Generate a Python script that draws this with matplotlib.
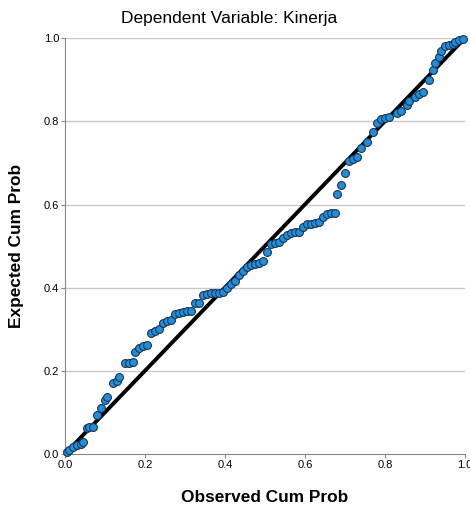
import matplotlib
matplotlib.use("Agg")
import matplotlib.pyplot as plt

plt.rcParams['font.family'] = ['Liberation Sans', 'DejaVu Sans']

# observed vs expected cumulative probability
observed = [0.005, 0.01, 0.02, 0.03, 0.04, 0.045, 0.055, 0.06, 0.07, 0.08,
            0.09, 0.10, 0.105, 0.12, 0.13, 0.135, 0.15, 0.16, 0.17, 0.175,
            0.185, 0.195, 0.205, 0.215, 0.225, 0.235, 0.245, 0.255, 0.265, 0.275,
            0.285, 0.295, 0.305, 0.315, 0.325, 0.335, 0.345, 0.355, 0.365, 0.375,
            0.385, 0.395, 0.405, 0.415, 0.425, 0.435, 0.445, 0.455, 0.465, 0.475,
            0.485, 0.495, 0.505, 0.515, 0.525, 0.535, 0.545, 0.555, 0.565, 0.575,
            0.585, 0.595, 0.605, 0.615, 0.625, 0.635, 0.645, 0.655, 0.665, 0.675,
            0.68, 0.69, 0.70, 0.71, 0.72, 0.73, 0.74, 0.755, 0.77, 0.78,
            0.79, 0.80, 0.81, 0.83, 0.84, 0.855, 0.86, 0.875, 0.885, 0.895,
            0.91, 0.92, 0.925, 0.935, 0.94, 0.95, 0.96, 0.97, 0.975, 0.985, 0.995]
expected = [0.005, 0.01, 0.018, 0.022, 0.025, 0.03, 0.062, 0.065, 0.066, 0.095,
            0.11, 0.13, 0.137, 0.17, 0.175, 0.185, 0.218, 0.22, 0.222, 0.245,
            0.255, 0.26, 0.262, 0.29, 0.295, 0.30, 0.315, 0.32, 0.322, 0.337,
            0.34, 0.342, 0.343, 0.345, 0.362, 0.363, 0.383, 0.386, 0.387, 0.388,
            0.388, 0.39, 0.40, 0.41, 0.415, 0.43, 0.44, 0.45, 0.455, 0.457,
            0.46, 0.465, 0.485, 0.505, 0.507, 0.51, 0.52, 0.527, 0.532, 0.533,
            0.535, 0.545, 0.552, 0.553, 0.555, 0.557, 0.57, 0.578, 0.58, 0.58,
            0.625, 0.648, 0.675, 0.705, 0.71, 0.715, 0.735, 0.75, 0.774, 0.795,
            0.805, 0.808, 0.81, 0.82, 0.825, 0.84, 0.85, 0.858, 0.865, 0.87,
            0.90, 0.923, 0.94, 0.955, 0.97, 0.98, 0.983, 0.985, 0.99, 0.995, 0.998]
ticks = [0.0, 0.2, 0.4, 0.6, 0.8, 1.0]
tick_labels = ["0.0", "0.2", "0.4", "0.6", "0.8", "1.0"]

fig = plt.figure(figsize=(4.7, 5.09), dpi=100)
ax = fig.add_axes([0.138, 0.108, 0.851, 0.817])

for t in ticks[1:]:
    ax.axhline(t, color='#c8c8c8', linewidth=1, zorder=0)

ax.plot([0, 1], [0, 1], color='black', linewidth=2.8, zorder=2)
ax.scatter(observed, expected, s=32, color='#1f8fdc', edgecolor='#1b3550',
           linewidth=0.8, zorder=3, clip_on=False)

ax.set_xlim(0, 1)
ax.set_ylim(0, 1)
ax.set_xticks(ticks)
ax.set_xticklabels(tick_labels)
ax.set_yticks(ticks)
ax.set_yticklabels(tick_labels)
ax.tick_params(labelsize=8, length=3, color='#888888', pad=1)
for s in ['top', 'right']:
    ax.spines[s].set_visible(False)
for s in ['left', 'bottom']:
    ax.spines[s].set_color('#888888')

fig.text(0.488, 0.963, "Dependent Variable: Kinerja", ha='center', va='center',
         fontsize=12.5, fontweight='medium')
ax.set_xlabel("Observed Cum Prob", fontsize=12.4, fontweight='bold', labelpad=15)
ax.set_ylabel("Expected Cum Prob", fontsize=12.4, fontweight='bold', labelpad=14)

fig.savefig("out.png", dpi=100)
